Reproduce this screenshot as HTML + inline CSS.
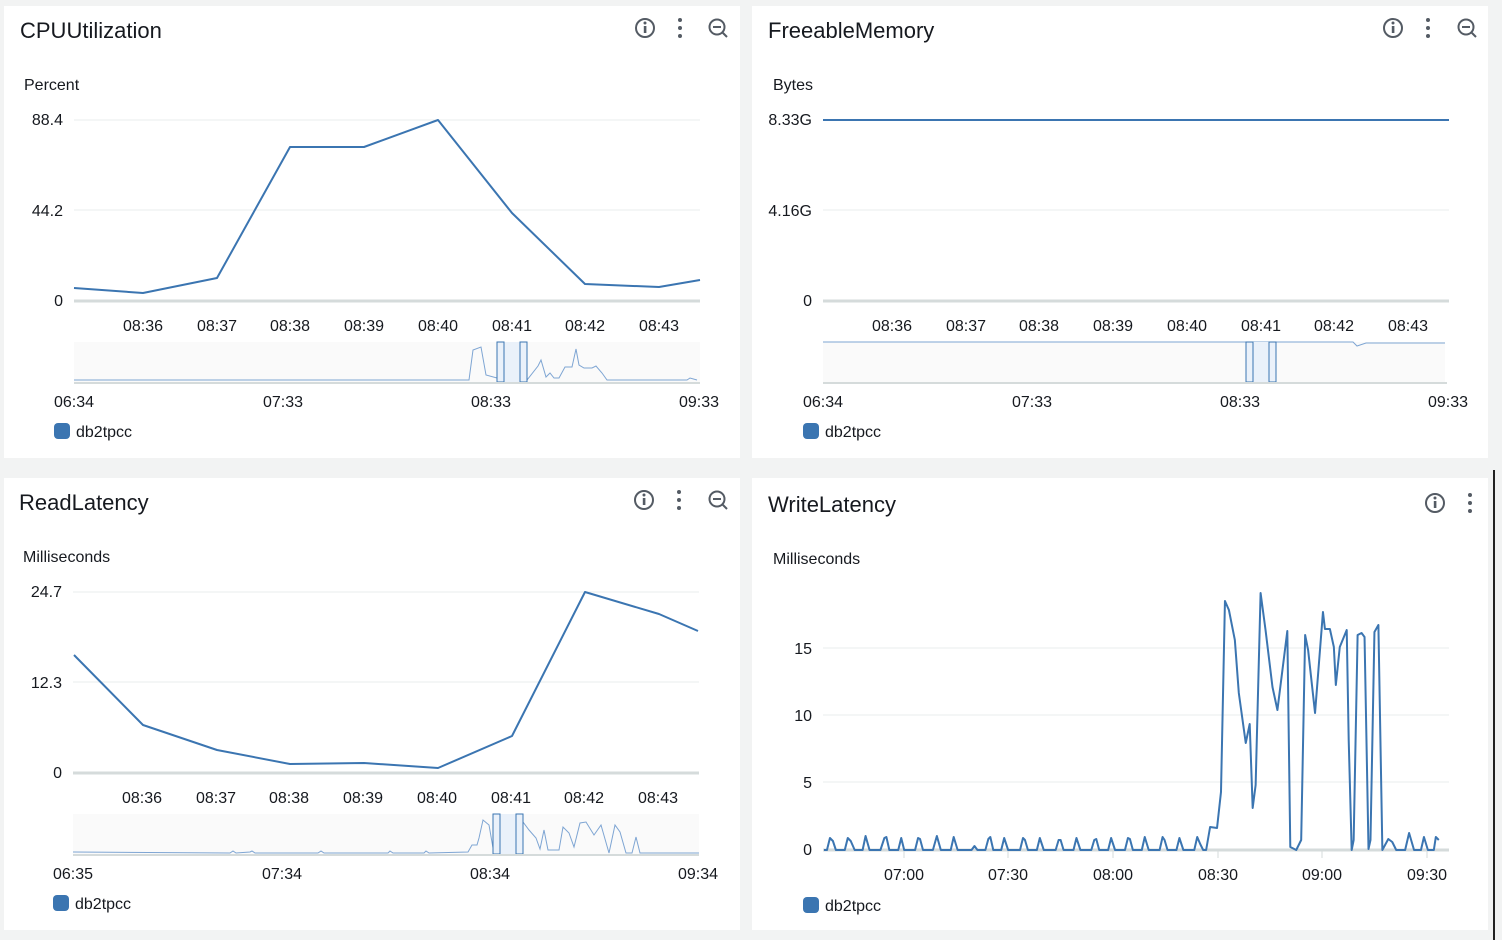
<!DOCTYPE html>
<html><head><meta charset="utf-8"><style>
html,body{margin:0;padding:0;background:#f2f3f3;}
svg{display:block;font-family:"Liberation Sans",sans-serif;}
.t{font-size:22px;fill:#16191f;}
.u{font-size:16px;fill:#16191f;}
.l{font-size:16px;fill:#16191f;}
.g{stroke:#eaeded;stroke-width:1;}
.ax{stroke:#d5dbdb;stroke-width:3;}
.s{fill:none;stroke:#3b75b1;stroke-width:2;stroke-linejoin:round;}
.n{fill:none;stroke:#7ea5d3;stroke-width:1;}
.ic{fill:none;stroke:#545b64;stroke-width:2;}
</style></head><body>
<svg width="1502" height="940" viewBox="0 0 1502 940">
<defs>
<g id="icons">
<circle cx="0" cy="0" r="9" class="ic"/><rect x="-1.2" y="-2" width="2.6" height="7" fill="#545b64"/><circle cx="0" cy="-5" r="1.5" fill="#545b64"/>
<circle cx="35" cy="-8" r="2" fill="#545b64"/><circle cx="35" cy="0" r="2" fill="#545b64"/><circle cx="35" cy="8" r="2" fill="#545b64"/>
</g>
<g id="zoom"><circle cx="0" cy="0" r="7.5" class="ic"/><line x1="5" y1="5" x2="10" y2="10" class="ic" stroke-width="2.5"/><line x1="-4" y1="0" x2="4" y2="0" class="ic"/></g>
</defs>
<rect x="1493" y="470" width="2" height="470" fill="#222"/>
<rect x="4" y="6" width="736" height="452" fill="#fff"/>
<rect x="752" y="6" width="736" height="452" fill="#fff"/>
<rect x="4" y="478" width="736" height="452" fill="#fff"/>
<rect x="752" y="478" width="736" height="452" fill="#fff"/>

<!-- CPU -->
<text x="20" y="38" class="t">CPUUtilization</text>
<use href="#icons" x="645" y="28"/><use href="#zoom" x="717" y="27"/>
<text x="24" y="90" class="u">Percent</text>
<text x="63" y="125" class="l" text-anchor="end">88.4</text>
<text x="63" y="216" class="l" text-anchor="end">44.2</text>
<text x="63" y="306" class="l" text-anchor="end">0</text>
<line x1="74" y1="120" x2="700" y2="120" class="g"/><line x1="74" y1="210" x2="700" y2="210" class="g"/>
<line x1="74" y1="301" x2="700" y2="301" class="ax"/>
<g class="l" text-anchor="middle"><text x="143" y="331">08:36</text><text x="217" y="331">08:37</text><text x="290" y="331">08:38</text><text x="364" y="331">08:39</text><text x="438" y="331">08:40</text><text x="512" y="331">08:41</text><text x="585" y="331">08:42</text><text x="659" y="331">08:43</text></g>
<polyline class="s" points="74,288 143,293 217,278 290,147 364,147 438,120 512,213 585,284 659,287 700,280"/>
<rect x="74" y="342" width="626" height="40" fill="#fafafa"/>
<polyline class="n" points="74,380 469,380 473,350 481,347 486,375 497,378 503,360 507,349 513,343 519,374 527,380 538,366 541,360 546,377 550,373 554,378 559,378 565,367 572,367 576,349 579,365 584,368 592,368 596,366 602,373 607,380 687,380 690,378 697,380"/>
<rect x="497" y="342" width="30" height="40" fill="#eaf1fa"/>
<rect x="497" y="342" width="7" height="40" fill="none" stroke="#3b75b1"/><rect x="520" y="342" width="7" height="40" fill="none" stroke="#3b75b1"/>
<line x1="74" y1="383" x2="700" y2="383" stroke="#d5dbdb" stroke-width="2"/>
<g class="l" text-anchor="middle"><text x="74" y="407">06:34</text><text x="283" y="407">07:33</text><text x="491" y="407">08:33</text><text x="699" y="407">09:33</text></g>
<rect x="54" y="423" width="16" height="16" rx="4" fill="#3b75b1"/><text x="76" y="437" class="l">db2tpcc</text>

<!-- FreeableMemory -->
<text x="768" y="38" class="t">FreeableMemory</text>
<use href="#icons" x="1393" y="28"/><use href="#zoom" x="1466" y="27"/>
<text x="773" y="90" class="u">Bytes</text>
<text x="812" y="125" class="l" text-anchor="end">8.33G</text>
<text x="812" y="216" class="l" text-anchor="end">4.16G</text>
<text x="812" y="306" class="l" text-anchor="end">0</text>
<line x1="823" y1="210" x2="1449" y2="210" class="g"/>
<line x1="823" y1="301" x2="1449" y2="301" class="ax"/>
<g class="l" text-anchor="middle"><text x="892" y="331">08:36</text><text x="966" y="331">08:37</text><text x="1039" y="331">08:38</text><text x="1113" y="331">08:39</text><text x="1187" y="331">08:40</text><text x="1261" y="331">08:41</text><text x="1334" y="331">08:42</text><text x="1408" y="331">08:43</text></g>
<line x1="823" y1="120" x2="1449" y2="120" class="s"/>
<rect x="823" y="342" width="622" height="40" fill="#fafafa"/>
<polyline class="n" points="823,342 1353,342 1357,346 1366,343 1445,343"/>
<rect x="1246" y="342" width="30" height="40" fill="#eaf1fa"/>
<rect x="1246" y="342" width="7" height="40" fill="none" stroke="#3b75b1"/><rect x="1269" y="342" width="7" height="40" fill="none" stroke="#3b75b1"/>
<line x1="823" y1="383" x2="1447" y2="383" stroke="#d5dbdb" stroke-width="2"/>
<g class="l" text-anchor="middle"><text x="823" y="407">06:34</text><text x="1032" y="407">07:33</text><text x="1240" y="407">08:33</text><text x="1448" y="407">09:33</text></g>
<rect x="803" y="423" width="16" height="16" rx="4" fill="#3b75b1"/><text x="825" y="437" class="l">db2tpcc</text>

<!-- ReadLatency -->
<text x="19" y="510" class="t">ReadLatency</text>
<use href="#icons" x="644" y="500"/><use href="#zoom" x="717" y="499"/>
<text x="23" y="562" class="u">Milliseconds</text>
<text x="62" y="597" class="l" text-anchor="end">24.7</text>
<text x="62" y="688" class="l" text-anchor="end">12.3</text>
<text x="62" y="778" class="l" text-anchor="end">0</text>
<line x1="73" y1="592" x2="699" y2="592" class="g"/><line x1="73" y1="682" x2="699" y2="682" class="g"/>
<line x1="73" y1="773" x2="699" y2="773" class="ax"/>
<g class="l" text-anchor="middle"><text x="142" y="803">08:36</text><text x="216" y="803">08:37</text><text x="289" y="803">08:38</text><text x="363" y="803">08:39</text><text x="437" y="803">08:40</text><text x="511" y="803">08:41</text><text x="584" y="803">08:42</text><text x="658" y="803">08:43</text></g>
<polyline class="s" points="74,655 143,725 217,750 290,764 364,763 438,768 512,736 585,592 659,614 698,631"/>
<rect x="73" y="814" width="626" height="40" fill="#fafafa"/>
<polyline class="n" points="73,852 230,853 233,851 236,853 250,852 252,851 255,853 318,853 321,851 324,853 388,853 390,851 393,853 424,853 426,851 429,853 468,852 472,845 477,845 479,838 483,820 489,825 493,848 515,852 519,848 523,822 529,830 536,838 540,849 544,830 548,850 559,850 563,827 569,833 574,847 580,823 586,822 594,835 601,825 609,853 615,825 620,832 626,853 632,853 636,837 640,853 699,853"/>
<rect x="493" y="814" width="30" height="40" fill="#eaf1fa"/>
<rect x="493" y="814" width="7" height="40" fill="none" stroke="#3b75b1"/><rect x="516" y="814" width="7" height="40" fill="none" stroke="#3b75b1"/>
<line x1="73" y1="855" x2="699" y2="855" stroke="#d5dbdb" stroke-width="2"/>
<g class="l" text-anchor="middle"><text x="73" y="879">06:35</text><text x="282" y="879">07:34</text><text x="490" y="879">08:34</text><text x="698" y="879">09:34</text></g>
<rect x="53" y="895" width="16" height="16" rx="4" fill="#3b75b1"/><text x="75" y="909" class="l">db2tpcc</text>

<!-- WriteLatency -->
<text x="768" y="512" class="t">WriteLatency</text>
<use href="#icons" x="1435" y="503"/>
<text x="773" y="564" class="u">Milliseconds</text>
<text x="812" y="654" class="l" text-anchor="end">15</text>
<text x="812" y="721" class="l" text-anchor="end">10</text>
<text x="812" y="788" class="l" text-anchor="end">5</text>
<text x="812" y="855" class="l" text-anchor="end">0</text>
<line x1="823" y1="648" x2="1449" y2="648" class="g"/><line x1="823" y1="715" x2="1449" y2="715" class="g"/><line x1="823" y1="782" x2="1449" y2="782" class="g"/>
<line x1="823" y1="850" x2="1449" y2="850" class="ax"/>
<g stroke="#d5dbdb"><line x1="904" y1="850" x2="904" y2="858"/><line x1="1008" y1="850" x2="1008" y2="858"/><line x1="1113" y1="850" x2="1113" y2="858"/><line x1="1218" y1="850" x2="1218" y2="858"/><line x1="1322" y1="850" x2="1322" y2="858"/><line x1="1427" y1="850" x2="1427" y2="858"/></g>
<g class="l" text-anchor="middle"><text x="904" y="880">07:00</text><text x="1008" y="880">07:30</text><text x="1113" y="880">08:00</text><text x="1218" y="880">08:30</text><text x="1322" y="880">09:00</text><text x="1427" y="880">09:30</text></g>
<polyline class="s" vector-effect="non-scaling-stroke" transform="translate(8.24,0) scale(0.99,1)" points="824,850 827,850 830,838 833,841 836,850 845,850 848,838 851,841 855,850 863,850 866,836 870,850 881,850 885,838 887,837 890,850 899,850 902,838 905,850 916,850 919,838 921,839 924,850 934,850 938,836 942,850 952,850 955,837 959,850 970,850 973,850 976,846 979,850 987,850 990,839 992,837 995,850 1003,850 1006,838 1010,850 1022,850 1025,838 1027,840 1030,850 1039,850 1042,838 1046,850 1058,850 1061,840 1063,840 1066,850 1076,850 1079,838 1083,850 1094,850 1097,840 1099,839 1102,850 1111,850 1114,838 1118,850 1128,850 1131,838 1133,839 1136,850 1145,850 1148,837 1152,850 1163,850 1166,837 1168,840 1171,850 1180,850 1183,838 1187,850 1198,850 1201,837 1204,844 1207,850 1210,850 1214,827 1221,828 1225,792 1229,601 1233,610 1239,640 1243,693 1250,743 1254,724 1257,808 1260,785 1265,593 1270,630 1277,687 1282,710 1292,631 1295,847 1301,850 1306,840 1310,635 1313,650 1320,713 1328,612 1330,629 1335,629 1339,647 1341,685 1345,647 1352,630 1354,740 1357,850 1359,840 1363,635 1367,633 1370,637 1374,849 1376,840 1380,632 1384,625 1388,850 1394,839 1398,842 1402,850 1411,850 1415,833 1420,850 1427,850 1430,837 1434,850 1440,850 1442,837 1445,840"/>
<rect x="803" y="897" width="16" height="16" rx="4" fill="#3b75b1"/><text x="825" y="911" class="l">db2tpcc</text>
</svg>
</body></html>
